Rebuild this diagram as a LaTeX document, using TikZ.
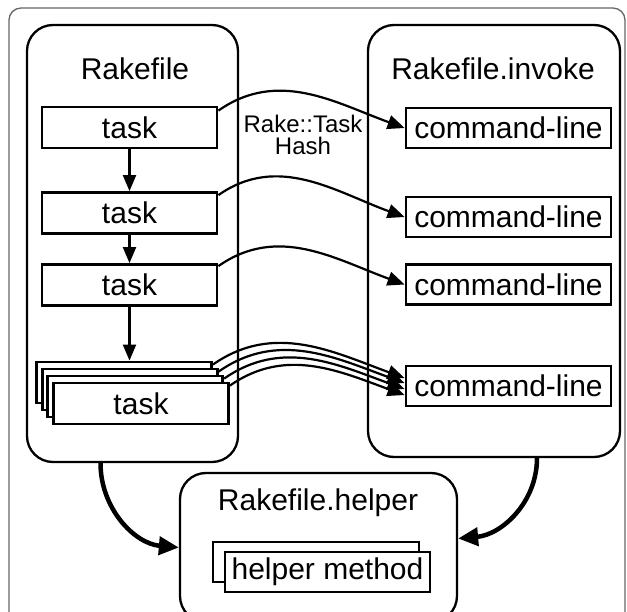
\documentclass[tikz,border=0pt]{standalone}
\usepackage{fontspec}
\setmainfont{Liberation Sans}
\usetikzlibrary{arrows.meta}

\begin{document}
\begin{tikzpicture}[x=1pt,y=1pt,
        container/.style={draw, line width=2.3pt, rounded corners=26pt, inner sep=0pt},
        taskbox/.style={draw, fill=white, line width=2.8pt, inner sep=0pt,
                minimum width=175pt, minimum height=41pt, font=\fontsize{30}{32}\selectfont},
        cmdbox/.style={taskbox, minimum width=205pt, minimum height=40pt},
        boxtitle/.style={font=\fontsize{30}{32}\selectfont},
        taskarrow/.style={line width=2.2pt, -{Triangle[length=16pt,width=13pt]}},
        hasharrow/.style={line width=2.2pt, -{Triangle[length=17pt,width=14pt]}},
        helperarrow/.style={line width=4.5pt, -{Triangle[length=20pt,width=18pt]}}]
    \useasboundingbox (0,0) rectangle (627,611);

    % 外框
    \draw[black!60, line width=1.3pt, rounded corners=12pt] (9,603) rectangle (625,-30);

    % 三个容器
    \node[container, minimum width=211pt, minimum height=437pt] (rakefile) at (132.5,367.5) {};
    \node[container, minimum width=252pt, minimum height=432pt] (invoke) at (494,370) {};
    \node[container, minimum width=277pt, minimum height=149pt] (helper) at (318.5,63.5) {};
    \node[boxtitle] (raketitle) at (135,542) {Rakefile};
    \node[boxtitle] (invoketitle) at (493,542) {Rakefile.invoke};
    \node[boxtitle] (helpertitle) at (318,108) {Rakefile.helper};

    % 任务
    \node[taskbox] (t1) at (129.5,483.5) {task};
    \node[taskbox] (t2) at (129.5,398) {task};
    \node[taskbox] (t3) at (129.5,326) {task};
    \node[taskbox] (sk1) at (124,228.5) {};
    \node[taskbox] (sk2) at (129.7,221.5) {};
    \node[taskbox] (sk3) at (135.3,214.5) {};
    \node[taskbox] (sk4) at (141,207.5) {task};

    \draw[taskarrow] (t1) -- (t2);
    \draw[taskarrow] (t2) -- (t3);
    \draw[taskarrow] (t3.south) -- (t3.south |- sk1.north);

    % 命令行
    \node[cmdbox] (cl1) at (508.5,483) {command-line};
    \node[cmdbox] (cl2) at (508.5,394) {command-line};
    \node[cmdbox] (cl3) at (508.5,326.5) {command-line};
    \node[cmdbox] (cl4) at (508.5,225) {command-line};

    \draw[hasharrow] ([yshift=-5pt]t1.north east) to[out=35,in=160] (cl1.west);
    \draw[hasharrow] ([yshift=-4pt]t2.north east) to[out=35,in=160] (cl2.west);
    \draw[hasharrow] ([yshift=-3pt]t3.north east) to[out=35,in=160] (cl3.west);
    \foreach \i/\dy in {1/8,2/3,3/-3,4/-9}
        \draw[hasharrow] ([yshift=-4pt]sk\i.north east) to[out=35,in=160] ([yshift=\dy pt]cl4.west);

    \node[align=center, font=\fontsize{24}{22}\selectfont] (hashlabel) at (303,476) {Rake::Task\\Hash};

    % 辅助方法
    \node[cmdbox, minimum width=206pt] (hm1) at (316,49) {};
    \node[cmdbox] (hm2) at (327.5,39) {helper method};

    \draw[helperarrow] ([xshift=-32pt]rakefile.south) to[out=-90,in=175] (helper.west);
    \draw[helperarrow] ([xshift=43pt]invoke.south) to[out=-90,in=5] ([yshift=9pt]helper.east);
\end{tikzpicture}
\end{document}
